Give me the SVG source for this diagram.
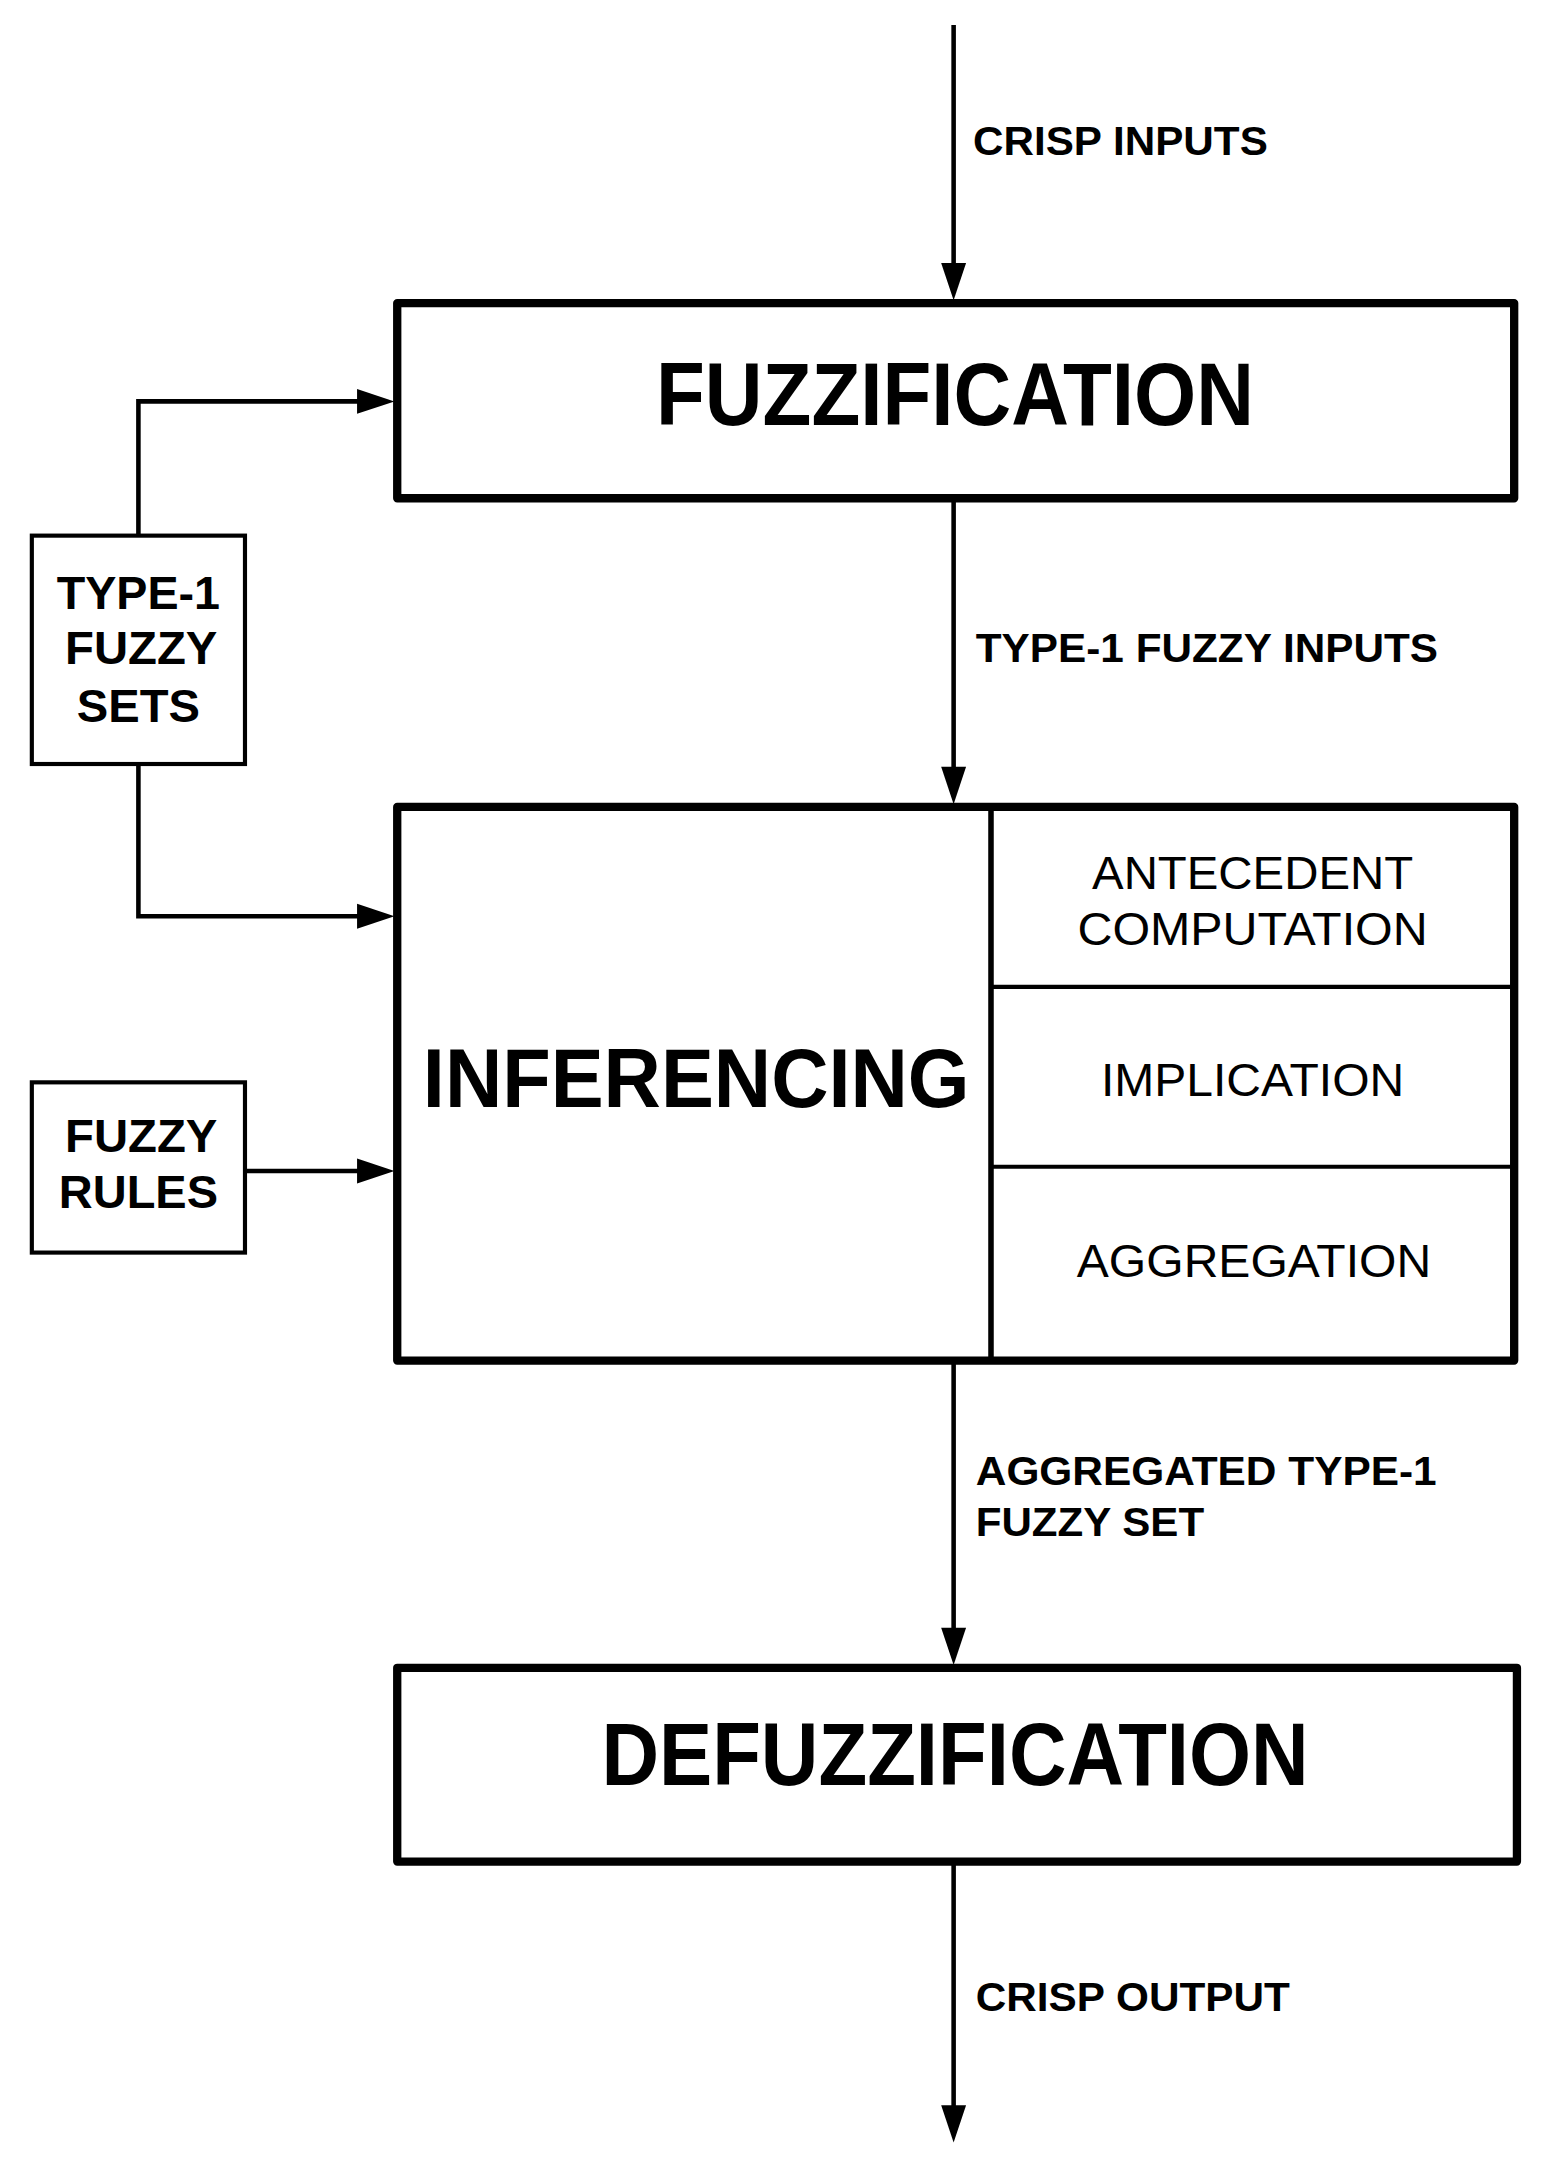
<svg xmlns="http://www.w3.org/2000/svg" width="1564" height="2179" viewBox="0 0 1564 2179">
<style>
text{font-family:"Liberation Sans",Arial,sans-serif;fill:#000}
.lab{font-size:30px;font-weight:bold}
.side{font-size:34px;font-weight:bold;text-anchor:middle}
.big{font-size:64px;font-weight:bold;text-anchor:middle}
.sub{font-size:34px;text-anchor:middle}
.thick{fill:#fff;stroke:#000;stroke-width:6;stroke-linejoin:round}
.thin{fill:#fff;stroke:#000;stroke-width:3}
.c{fill:none;stroke:#000;stroke-width:3.3}
</style>
<rect width="1564" height="2179" fill="#fff"/>
<g transform="scale(1.38407)">
<g id="connectors">
<path class="c" d="M689,18 V204" />
<path d="M680,190 L689,217 L698,190 Z"/>
<path class="c" d="M689,360 V568"/>
<path d="M680,554 L689,581 L698,554 Z"/>
<path class="c" d="M689,983 V1190"/>
<path d="M680,1176 L689,1203 L698,1176 Z"/>
<path class="c" d="M689,1345 V1535"/>
<path d="M680,1521 L689,1548 L698,1521 Z"/>
<path class="c" d="M100,387 V290 H272"/>
<path d="M258,281 L285,290 L258,299 Z"/>
<path class="c" d="M100,552 V662 H272"/>
<path d="M258,653 L285,662 L258,671 Z"/>
<path class="c" d="M177,846 H272"/>
<path d="M258,837 L285,846 L258,855 Z"/>
<text class="lab" x="703" y="112" textLength="213" lengthAdjust="spacingAndGlyphs">CRISP INPUTS</text>
<text class="lab" x="705" y="478" textLength="334" lengthAdjust="spacingAndGlyphs">TYPE-1 FUZZY INPUTS</text>
<text class="lab" x="705" y="1073" textLength="333" lengthAdjust="spacingAndGlyphs">AGGREGATED TYPE-1</text>
<text class="lab" x="705" y="1110" textLength="165" lengthAdjust="spacingAndGlyphs">FUZZY SET</text>
<text class="lab" x="705" y="1453" textLength="227" lengthAdjust="spacingAndGlyphs">CRISP OUTPUT</text>
</g>
<g id="fuzzification">
<rect class="thick" x="287" y="219" width="807" height="141"/>
<text class="big" x="690" y="307" textLength="432" lengthAdjust="spacingAndGlyphs">FUZZIFICATION</text>
</g>
<g id="type1-sets">
<rect class="thin" x="23" y="387" width="154" height="165"/>
<text class="side" x="100" y="440" textLength="118" lengthAdjust="spacingAndGlyphs">TYPE-1</text>
<text class="side" x="102" y="480" textLength="110" lengthAdjust="spacingAndGlyphs">FUZZY</text>
<text class="side" x="100" y="522" textLength="89" lengthAdjust="spacingAndGlyphs">SETS</text>
</g>
<g id="fuzzy-rules">
<rect class="thin" x="23" y="782" width="154" height="123"/>
<text class="side" x="102" y="832" textLength="110" lengthAdjust="spacingAndGlyphs">FUZZY</text>
<text class="side" x="100" y="873" textLength="115" lengthAdjust="spacingAndGlyphs">RULES</text>
</g>
<g id="inferencing">
<rect class="thick" x="287" y="583" width="807" height="400"/>
<line x1="716" y1="583" x2="716" y2="983" stroke="#000" stroke-width="4"/>
<line x1="716" y1="713" x2="1094" y2="713" stroke="#000" stroke-width="3"/>
<line x1="716" y1="843" x2="1094" y2="843" stroke="#000" stroke-width="3"/>
<text class="big" x="503" y="800" style="font-size:60px" textLength="395" lengthAdjust="spacingAndGlyphs">INFERENCING</text>
<text class="sub" x="905" y="642" textLength="232" lengthAdjust="spacingAndGlyphs">ANTECEDENT</text>
<text class="sub" x="905" y="683" textLength="253" lengthAdjust="spacingAndGlyphs">COMPUTATION</text>
<text class="sub" x="905" y="792" textLength="219" lengthAdjust="spacingAndGlyphs">IMPLICATION</text>
<text class="sub" x="906" y="923" textLength="256" lengthAdjust="spacingAndGlyphs">AGGREGATION</text>
</g>
<g id="defuzzification">
<rect class="thick" x="287" y="1205" width="809" height="140"/>
<text class="big" x="690" y="1290" textLength="511" lengthAdjust="spacingAndGlyphs">DEFUZZIFICATION</text>
</g>
</g>
</svg>
